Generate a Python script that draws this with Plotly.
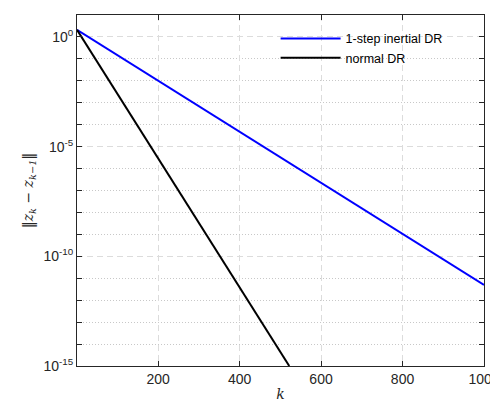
import plotly.graph_objects as go

# data
k_inertial = [1, 150, 315, 500, 700, 1000]
v_inertial = [2.1, 3.9e-2, 4.7e-4, 3.3e-6, 1.6e-8, 5.0e-12]
k_normal = [1, 151, 300, 450, 522]
v_normal = [2.1, 8.1e-5, 3.4e-9, 1.3e-13, 1.0e-15]

y_tickvals = [1, 1e-5, 1e-10, 1e-15]
y_ticktext = ["10<sup>0</sup>", "10<sup>-5</sup>", "10<sup>-10</sup>", "10<sup>-15</sup>"]
y_minor = [10.0 ** e for e in range(-14, 1) if e % 5 != 0]
x_tickvals = [200, 400, 600, 800, 1000]

font = "Liberation Sans, Arial, sans-serif"

fig = go.Figure()
fig.add_trace(go.Scatter(x=k_inertial, y=v_inertial, mode="lines",
                         line=dict(color="#0000ff", width=2), name="1-step inertial DR"))
fig.add_trace(go.Scatter(x=k_normal, y=v_normal, mode="lines",
                         line=dict(color="#000000", width=2), name="normal DR"))

fig.update_layout(
    width=498, height=403,
    margin=dict(l=69, r=12, t=6, b=45),
    paper_bgcolor="white", plot_bgcolor="white",
    font=dict(family=font, size=14, color="#262626"),
    showlegend=True,
    legend=dict(x=0.488, y=0.975, xanchor="left", yanchor="top",
                bgcolor="rgba(255,255,255,0)", borderwidth=0, itemwidth=60,
                font=dict(size=12.5, color="#000000"), tracegroupgap=0),
    xaxis=dict(range=[1, 1000], tickvals=x_tickvals, ticks="inside", ticklen=5,
               ticklabeloverflow="allow",
               showline=True, linecolor="#262626", linewidth=1, mirror="ticks",
               showgrid=True, gridcolor="#dcdcdc", griddash="6px,4px", gridwidth=1,
               zeroline=False, tickcolor="#262626",
               title=dict(text="<i>k</i>", standoff=3, font=dict(size=14, family="DejaVu Serif"))),
    yaxis=dict(type="log", range=[-15, 1], tickvals=y_tickvals, ticktext=y_ticktext,
               ticks="inside", ticklen=5, tickcolor="#262626",
               showline=True, linecolor="#262626", linewidth=1, mirror="ticks",
               showgrid=True, gridcolor="#dcdcdc", griddash="6px,4px", gridwidth=1,
               zeroline=False,
               minor=dict(tickvals=y_minor, ticks="inside", ticklen=5, tickcolor="#262626",
                          showgrid=True, gridcolor="#c8c8c8", griddash="1px,2px", gridwidth=1),
               title=dict(text="‖<i>z<sub>k</sub></i> − <i>z<sub>k−1</sub></i>‖", standoff=6,
                          font=dict(size=14, family="DejaVu Serif"))),
)

fig.write_html("out.html")
